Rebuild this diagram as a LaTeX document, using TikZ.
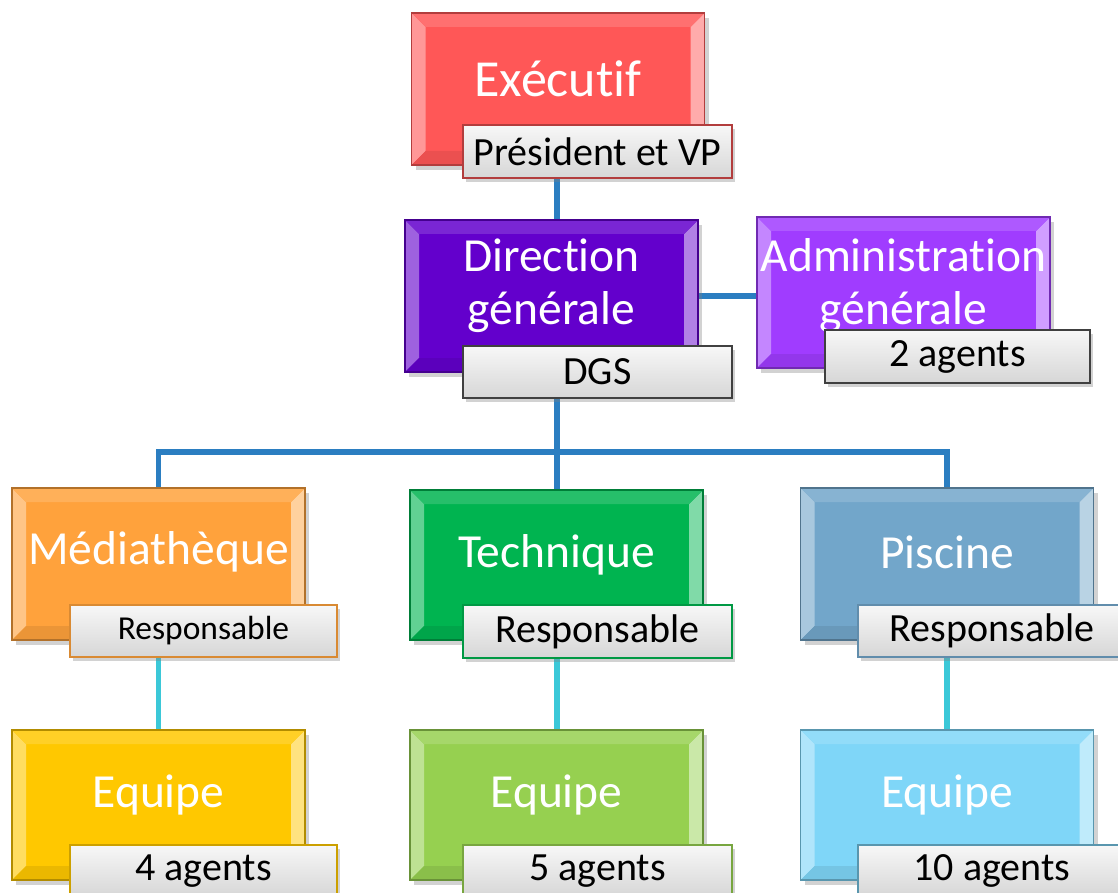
\documentclass[tikz,border=0pt]{standalone}
\usepackage{fontspec}
\setmainfont{Carlito}[Ligatures=NoCommon]
\usetikzlibrary{shadows,backgrounds}
\definecolor{execred}{HTML}{FF5757}
\definecolor{dirpurple}{HTML}{6300CC}
\definecolor{admpurple}{HTML}{A03CFF}
\definecolor{medorange}{HTML}{FFA23C}
\definecolor{techgreen}{HTML}{00B450}
\definecolor{piscblue}{HTML}{72A6CA}
\definecolor{eqyellow}{HTML}{FFC800}
\definecolor{eqgreen}{HTML}{96D050}
\definecolor{eqblue}{HTML}{7FD6F8}
\definecolor{connblue}{HTML}{2B7EC1}
\definecolor{conncyan}{HTML}{3BC8D8}
\definecolor{labdark}{HTML}{404040}
\tikzset{
  x=1pt, y=-1pt,
  box/.style={draw=#1!70!black, line width=1.2pt, fill=#1,
    minimum width=293pt, minimum height=152pt, inner sep=0pt,
    drop shadow={shadow xshift=4pt, shadow yshift=-5pt, opacity=0.35},
    path picture={
      \fill[#1!62!white] (path picture bounding box.south west) -- (path picture bounding box.north west)
        -- ([shift={(14pt,-14pt)}]path picture bounding box.north west) -- ([shift={(14pt,14pt)}]path picture bounding box.south west) -- cycle;
      \fill[#1!50!white] (path picture bounding box.south east) -- (path picture bounding box.north east)
        -- ([shift={(-14pt,-14pt)}]path picture bounding box.north east) -- ([shift={(-14pt,14pt)}]path picture bounding box.south east) -- cycle;
      \fill[#1!85!white] (path picture bounding box.north west) -- (path picture bounding box.north east)
        -- ([shift={(-14pt,-14pt)}]path picture bounding box.north east) -- ([shift={(14pt,-14pt)}]path picture bounding box.north west) -- cycle;
      \fill[#1!92!black] (path picture bounding box.south west) -- (path picture bounding box.south east)
        -- ([shift={(-14pt,14pt)}]path picture bounding box.south east) -- ([shift={(14pt,14pt)}]path picture bounding box.south west) -- cycle;
    }},
  boxtext/.style={text=white, font=\fontsize{47.5}{53}\selectfont, align=center, yshift=10pt, inner sep=0pt},
  lab/.style={draw=#1, line width=1.6pt, top color=black!3, bottom color=black!16,
    minimum width=268pt, minimum height=52pt, inner sep=0pt, text=black,
    font=\fontsize{40}{44}\selectfont,
    drop shadow={shadow xshift=3pt, shadow yshift=-4pt, opacity=0.35}},
  conn/.style={draw=connblue, line width=5.5pt},
  conn2/.style={draw=conncyan, line width=5.5pt},
}
\begin{document}
\begin{tikzpicture}
\useasboundingbox (0,0) rectangle (1118,893);
% boxes
\node[box=execred] (exec) at (558,89) {};
\node[boxtext, font=\fontsize{52}{58}\selectfont] at (exec) {Exécutif};
\node[box=dirpurple] (dir) at (551.5,296) {};
\node[boxtext] at (dir) {Direction\\générale};
\node[box=admpurple, minimum height=151pt] (adm) at (903.5,292.5) {};
\node[boxtext, yshift=-3pt] at (adm) {Administration\\générale};
\node[box=medorange] (med) at (158.5,564) {};
\node[boxtext, yshift=2pt] at (med) {Médiathèque};
\node[box=techgreen, minimum height=150pt] (tech) at (556.5,565) {};
\node[boxtext] at (tech) {Technique};
\node[box=piscblue] (pis) at (947,564) {};
\node[boxtext, yshift=2pt] at (pis) {Piscine};
\node[box=eqyellow, minimum height=150pt] (eqa) at (158.5,805) {};
\node[boxtext] at (eqa) {Equipe};
\node[box=eqgreen, minimum height=150pt] (eqb) at (556.5,805) {};
\node[boxtext] at (eqb) {Equipe};
\node[box=eqblue, minimum height=150pt] (eqc) at (947,805) {};
\node[boxtext] at (eqc) {Equipe};
% labels
\node[lab=execred!70!black, minimum width=269pt, minimum height=53pt] (pres) at (597.5,151.5) {Président et VP};
\node[lab=labdark, minimum width=269pt] (dgs) at (597.5,372) {DGS};
\node[lab=labdark, minimum width=265pt, minimum height=53pt] (ag2) at (957.5,356.5) {2 agents};
\node[lab=medorange!85!black, minimum width=267pt, font=\fontsize{33.5}{38}\selectfont] (r1) at (203.5,631) {Responsable};
\node[lab=techgreen!85!black, minimum width=269pt, minimum height=53pt] (r2) at (597.5,631.5) {Responsable};
\node[lab=piscblue!85!black] (r3) at (992,631) {Responsable};
\node[lab=eqyellow!80!black, minimum width=267pt] (a4) at (203.5,871) {4 agents};
\node[lab=eqgreen!80!black, minimum width=269pt] (a5) at (597.5,871) {5 agents};
\node[lab=eqblue!70!black] (a10) at (992,871) {10 agents};
% connectors
\coordinate (bus) at (557,452);
\begin{pgfonlayer}{background}
\fill[white] (0,0) rectangle (1118,893);
\draw[conn] (557,165) coordinate (c1) -- (c1 |- dir.north);
\draw[conn] (dir.east) -- (dir.east -| adm.west);
\draw[conn] (bus |- dgs.south) -- (bus);
\draw[conn] (med.north) |- (bus) -| (pis.north);
\draw[conn] (bus) -- (bus |- tech.north);
\draw[conn2] (med) -- (eqa);
\draw[conn2] (bus |- tech.south) -- (bus |- eqb.north);
\draw[conn2] (pis) -- (eqc);
\end{pgfonlayer}
\end{tikzpicture}
\end{document}
